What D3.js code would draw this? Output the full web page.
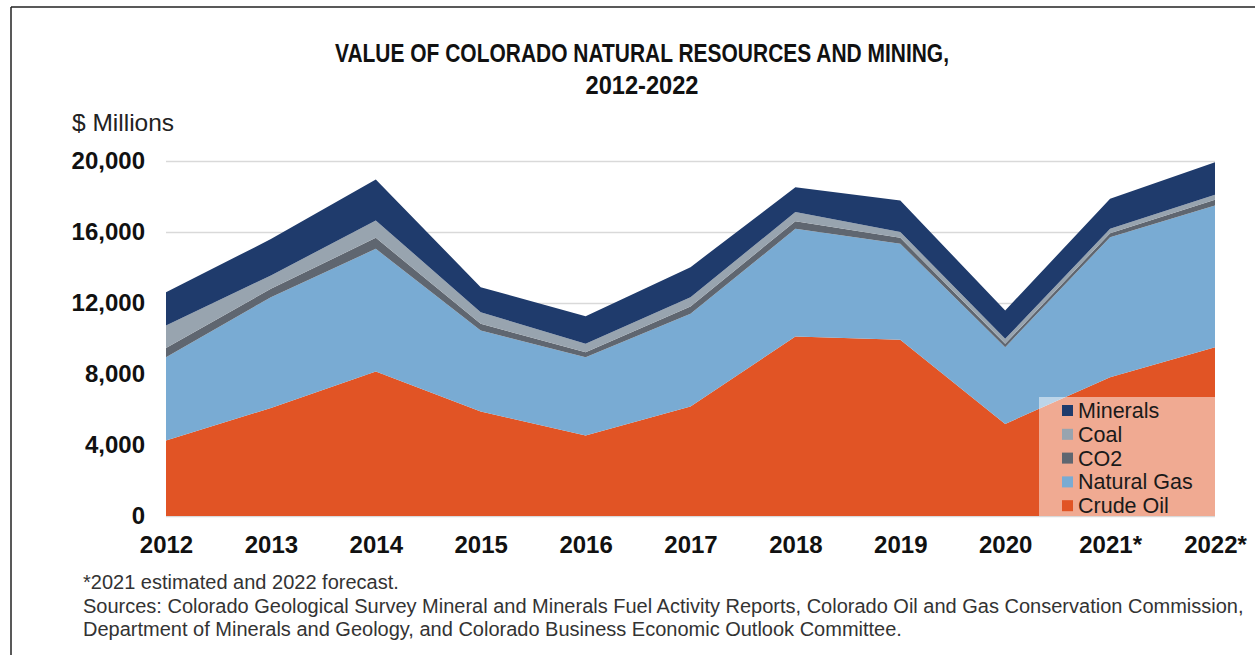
<!DOCTYPE html>
<html>
<head>
<meta charset="utf-8">
<script src="https://cdn.jsdelivr.net/npm/d3@7"></script>
<style>
  body { margin: 0; background: #fff; }
  svg { display: block; }
  text { font-family: "Liberation Sans", Arial, sans-serif; }
  .title { font-weight: bold; font-size: 25px; fill: #111; }
  .axis text { font-family: "Liberation Sans", Arial, sans-serif; font-weight: bold; font-size: 24px; fill: #111; }
  .note { font-size: 20px; fill: #333; }
  .legend text { font-size: 21.5px; fill: #1a1a1a; }
</style>
</head>
<body>
<svg width="1255" height="655"></svg>
<script>
// years on the x axis
var years = ["2012", "2013", "2014", "2015", "2016", "2017", "2018", "2019", "2020", "2021*", "2022*"];

// $ millions
var crudeOil   = [4250, 6090, 8140, 5890, 4540, 6170, 10110, 9930, 5190, 7820, 9510];
var naturalGas = [4700, 6240, 6910, 4560, 4410, 5220, 6070, 5410, 4320, 7890, 7980];
var co2        = [520, 470, 620, 380, 280, 410, 430, 330, 190, 220, 320];
var coal       = [1260, 750, 980, 650, 470, 530, 510, 330, 280, 250, 290];
var minerals   = [1880, 2050, 2310, 1410, 1560, 1690, 1400, 1770, 1600, 1690, 1830];

var yTicks = [0, 4000, 8000, 12000, 16000, 20000];

var keys = ["Crude Oil", "Natural Gas", "CO2", "Coal", "Minerals"];
var colors = ["#e15425", "#79abd3", "#5f6670", "#98a4af", "#1f3b6c"];

var data = years.map(function(yr, i) {
  return {year: yr, "Crude Oil": crudeOil[i], "Natural Gas": naturalGas[i],
          "CO2": co2[i], "Coal": coal[i], "Minerals": minerals[i]};
});

var svg = d3.select("svg");
var plotLeft = 166, plotRight = 1215, plotTop = 161, plotBottom = 516;

var x = d3.scalePoint().domain(years).range([plotLeft, plotRight]);
var y = d3.scaleLinear().domain([0, 20000]).range([plotBottom, plotTop]);
var color = d3.scaleOrdinal().domain(keys).range(colors);

// frame
svg.append("line").attr("x1", 11).attr("x2", 1255).attr("y1", 7).attr("y2", 7)
  .attr("stroke", "#222").attr("stroke-width", 1.5);
svg.append("line").attr("x1", 11).attr("x2", 11).attr("y1", 7).attr("y2", 655)
  .attr("stroke", "#222").attr("stroke-width", 1.5);

// title (condensed look)
svg.append("text").attr("class", "title").attr("x", 642).attr("y", 62)
  .attr("text-anchor", "middle")
  .attr("textLength", 614).attr("lengthAdjust", "spacingAndGlyphs")
  .text("VALUE OF COLORADO NATURAL RESOURCES AND MINING,");
svg.append("text").attr("class", "title").attr("x", 642).attr("y", 94)
  .attr("text-anchor", "middle")
  .attr("textLength", 113).attr("lengthAdjust", "spacingAndGlyphs")
  .text("2012-2022");

svg.append("text").attr("x", 72).attr("y", 131)
  .style("font-size", "24.5px").style("fill", "#222").text("$ Millions");

// gridlines
svg.append("g")
  .attr("transform", "translate(" + plotLeft + ",0)")
  .call(d3.axisLeft(y).tickValues(yTicks).tickSize(-(plotRight - plotLeft)).tickFormat(""))
  .call(function(g) { g.select(".domain").remove(); })
  .selectAll("line").attr("stroke", "#d9d9d9").attr("stroke-width", 1.5);

// stacked areas
var series = d3.stack().keys(keys)(data);
var area = d3.area()
  .x(function(d) { return x(d.data.year); })
  .y0(function(d) { return y(d[0]); })
  .y1(function(d) { return y(d[1]); });

svg.append("g").selectAll("path")
  .data(series)
  .enter().append("path")
  .attr("fill", function(d) { return color(d.key); })
  .attr("d", area);

// axes
svg.append("g")
  .attr("class", "axis")
  .attr("transform", "translate(" + plotLeft + ",0)")
  .call(d3.axisLeft(y).tickValues(yTicks).tickSize(0).tickPadding(21).tickFormat(d3.format(",")))
  .call(function(g) { g.select(".domain").remove(); })
  .attr("font-family", null).attr("font-size", null);

svg.append("g")
  .attr("class", "axis")
  .attr("transform", "translate(0," + plotBottom + ")")
  .call(d3.axisBottom(x).tickSize(0))
  .call(function(g) { g.select(".domain").remove(); })
  .attr("font-family", null).attr("font-size", null)
  .selectAll("text").attr("y", 37).attr("dy", 0);

// legend
var lg = svg.append("g").attr("class", "legend");
lg.append("rect").attr("x", 1039).attr("y", 397).attr("width", plotRight - 1039).attr("height", plotBottom - 397)
  .attr("fill", "#fff").attr("fill-opacity", 0.5);
var items = lg.selectAll(".item")
  .data(keys.slice().reverse())
  .enter().append("g")
  .attr("class", "item")
  .attr("transform", function(d, i) { return "translate(1062," + (410.5 + i * 23.8) + ")"; });
items.append("rect").attr("x", 0).attr("y", -5.5).attr("width", 11).attr("height", 11)
  .attr("fill", function(d) { return color(d); });
items.append("text").attr("x", 16).attr("y", 7.5).text(function(d) { return d; });

// notes
var notes = ["*2021 estimated and 2022 forecast.",
  "Sources: Colorado Geological Survey Mineral and Minerals Fuel Activity Reports, Colorado Oil and Gas Conservation Commission,",
  "Department of Minerals and Geology, and Colorado Business Economic Outlook Committee."];
svg.selectAll(".note")
  .data(notes)
  .enter().append("text")
  .attr("class", "note")
  .attr("x", 83)
  .attr("y", function(d, i) { return 589 + i * 23.5; })
  .text(function(d) { return d; });
</script>
</body>
</html>
